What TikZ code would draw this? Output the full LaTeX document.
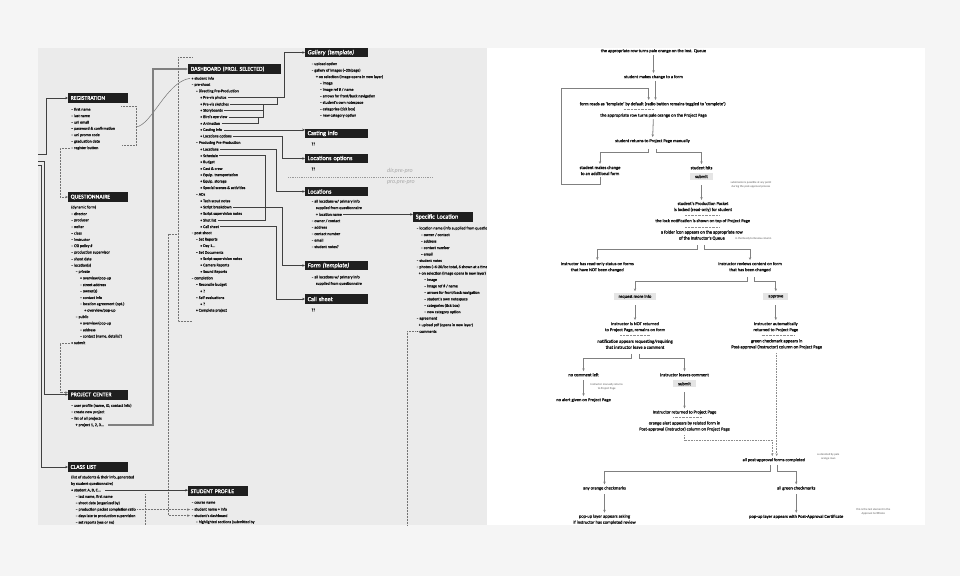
\documentclass[tikz,border=0pt]{standalone}
\usepackage{fontspec}
\setmainfont{Carlito}
\newfontfamily\dense{Carlito}[FakeBold=1.2]
\usetikzlibrary{arrows.meta}
\definecolor{outerbg}{HTML}{F5F5F5}
\definecolor{panelbg}{HTML}{EBEBEB}
\definecolor{ink}{HTML}{151515}
\newcommand\lfont{\dense\fontsize{4}{4.8}\selectfont}
\newcommand\hfont{\dense\fontsize{5.8}{6.5}\selectfont}
\newcommand\bfont{\dense\fontsize{6.2}{7}\selectfont}
\newcommand\ffont{\dense\fontsize{4.5}{6}\selectfont}
\newcommand\nfont{\fontsize{2.9}{4}\selectfont}
\tikzset{
  item/.style={anchor=west,inner sep=0pt,outer xsep=1.5pt,font=\lfont,text=ink},
  hdr/.style={anchor=west,fill=black!88,text=white,font=\hfont,inner xsep=2.5pt,
    inner ysep=0pt,minimum height=10pt,text width=#1,align=left},
  rhdr/.style={hdr=#1,font=\bfont,minimum height=9.5pt},
  phase/.style={font=\fontsize{6}{7}\selectfont\itshape,text=black!35,inner sep=0pt},
  link/.style={draw=black!75,line width=.7pt},
  plink/.style={draw=black!50,line width=1.2pt},
  dotl/.style={draw=black!55,densely dotted,line width=.5pt},
  ftxt/.style={inner sep=0pt,outer sep=2pt,font=\ffont,align=center,text=ink},
  btn/.style={fill=black!10,font=\ffont,inner xsep=5pt,inner ysep=0pt,
    minimum height=7pt,outer sep=2pt,text=ink},
  note/.style={inner sep=0pt,font=\nfont,align=center,text=black!65},
  fl/.style={draw=black!50,line width=.8pt},
  dfl/.style={draw=black!45,densely dotted,line width=.6pt},
  sepl/.style={draw=black!45,densely dotted,line width=.4pt},
}
\begin{document}
\begin{tikzpicture}[x=1pt,y=-1pt,>={Stealth[length=2.8pt,width=2.4pt]}]
  \def\dy{6.45}
  \def\ind{4.4}
  \useasboundingbox (0,0) rectangle (960,576);
  \fill[outerbg] (0,0) rectangle (960,576);
  \fill[panelbg] (38,48) rectangle (487,525);

  % site map: headers
  \node[hdr=55pt] (reg) at (68,98) {REGISTRATION};
  \node[hdr=55pt] (qst) at (68,197) {QUESTIONNAIRE};
  \node[hdr=55pt] (pc) at (68,394.5) {PROJECT CENTER};
  \node[hdr=55pt] (cl) at (68,467) {CLASS LIST};
  \node[hdr=88pt] (dash) at (188,69) {DASHBOARD (PROJ. SELECTED)};
  \node[hdr=55pt] (sp) at (188,491.3) {STUDENT PROFILE};
  \node[rhdr=58pt] (gal) at (305,52.5) {\itshape Gallery (template)};
  \node[rhdr=58pt] (cast) at (305,133.5) {Casting info};
  \node[rhdr=58pt] (lopt) at (305,158.5) {Locations options};
  \node[rhdr=58pt] (loc) at (305,191.5) {Locations};
  \node[rhdr=58pt] (form) at (305,265.5) {\itshape Form (template)};
  \node[rhdr=58pt] (call) at (305,299) {Call sheet};
  \node[rhdr=55pt] (spec) at (413,217) {Specific Location};

  % site map: lists
  \foreach \lv/\tx [count=\i] in {0/{– first name},0/{– last name},0/{– uni email},
      0/{– password \& confirmation},0/{– uni promo code},0/{– graduation date},
      0/{– register button}}
    \node[item] (r\i) at ({69.7+\lv*\ind},{109.3+(\i-1)*\dy}) {\tx};
  \foreach \lv/\tx [count=\i] in {0/{(dynamic form)},0/{– director},0/{– producer},
      0/{– writer},0/{– class},0/{– instructor},0/{– CSI policy \#},
      0/{– production supervisor},0/{– shoot date},0/{– location(s)},1/{– private},
      2/{• overview/pop-up},2/{– street address},2/{– owner(s)},2/{– contact info},
      2/{– location agreement (opt.)},3/{• overview/pop-up},1/{– public},
      2/{• overview/pop-up},2/{– address},2/{– contact (name, details?)},0/{• submit}}
    \node[item] (q\i) at ({69.7+\lv*\ind},{207.3+(\i-1)*\dy}) {\tx};
  \foreach \lv/\tx [count=\i] in {0/{– user profile (name, ID, contact info)},
      0/{– create new project},0/{– list of all projects},1/{+ project 1, 2, 3...}}
    \node[item] (pc\i) at ({69.7+\lv*\ind},{405.7+(\i-1)*\dy}) {\tx};
  \foreach \lv/\tx [count=\i] in {0/{(list of students \& their info, generated},
      0/{by student questionnaire)},0/{• student A, B, C...},1/{– last name, first name},
      1/{– shoot date (organized by)},1/{– production packet completion ratio},
      1/{– days late to production supervision},1/{– set reports (yes or no)}}
    \node[item] (c\i) at ({69.7+\lv*\ind},{477.3+(\i-1)*\dy}) {\tx};
  \foreach \lv/\tx [count=\i] in {0/{– course name},0/{– student name + info},
      0/{– student's dashboard},1/{– highlighted sections (submitted by}}
    \node[item] (sp\i) at ({190+\lv*\ind},{502.7+(\i-1)*\dy}) {\tx};
  \foreach \lv/\tx [count=\i] in {0/{• student info},0/{– pre-shoot},
      1/{– Directing Pre-Production},2/{• Pre-vis photos},2/{• Pre-vis sketches},
      2/{• Storyboards},2/{• Bird's eye view},2/{• Animation},2/{• Casting info},
      2/{• Locations options},1/{– Producing Pre-Production},2/{• Locations},
      2/{• Schedule},2/{• Budget},2/{• Cast \& crew},2/{• Equip. transportation},
      2/{• Equip. storage},2/{• Special scenes \& activities},1/{– ADs},
      2/{• Tech scout notes},2/{• Script breakdown},2/{• Script supervision notes},
      2/{• Shot list},2/{• Call sheet},0/{– post-shoot},1/{– Set Reports},
      2/{• Day 1...},1/{– Set Documents},2/{• Script supervision notes},
      2/{• Camera Reports},2/{• Sound Reports},0/{– completion},
      1/{– Reconcile budget},2/{• ?},1/{– Self evaluations},2/{• ?},
      1/{• Complete project}}
    \node[item] (D\i) at ({190+\lv*\ind},{78.3+(\i-1)*\dy}) {\tx};
  \foreach \lv/\tx [count=\i] in {0/{– upload option},
      0/{– gallery of images (\textasciitilde20/page)},
      1/{+ on selection (image opens in new layer)},1.9/{– image},
      1.9/{– image ref \# / name},1.9/{– arrows for front/back navigation},
      1.9/{– student's own notespace},1.9/{– categories (tick box)},
      1.9/{– new category option}}
    \node[item] (g\i) at ({310+\lv*\ind},{64+(\i-1)*\dy}) {\tx};
  \node[item] (cq) at (310,144) {??};
  \node[item] (lq) at (310,169) {??};
  \foreach \lv/\tx [count=\i] in {0/{– all locations w/ primary info},
      1/{supplied from questionnaire},1/{+ location name},0/{– owner / contact},
      0/{– address},0/{– contact number},0/{– email},0/{– student notes?}}
    \node[item] (L\i) at ({310+\lv*\ind},{201.5+(\i-1)*\dy}) {\tx};
  \node[item] (F1) at (310,277.3) {– all locations w/ primary info};
  \node[item] (F2) at (314.4,283.7) {supplied from questionnaire};
  \node[item] (sq) at (310,310) {??};
  \foreach \lv/\tx [count=\i] in {0/{– location name (info supplied from questionnaire)},
      1/{– owner / contact},1/{– address},1/{– contact number},1/{– email},
      0/{– student notes},0/{– photos (\textasciitilde6-20/loc total, 6 shown at a time)},
      0.5/{+ on selection (image opens in new layer)},1.75/{– image},
      1.75/{– image ref \# / name},1.75/{– arrows for front/back navigation},
      1.75/{– student's own notespace},1.75/{– categories (tick box)},
      1.75/{– new category option},0/{– agreement},
      0.5/{+ upload pdf (opens in new layer)},0/{– comments}}
    \node[item] (S\i) at ({415+\lv*\ind},{228.3+(\i-1)*\dy}) {\tx};
  \node[phase,anchor=east] (dirpp) at (413,171) {dir.pre-pro};
  \node[phase,anchor=east] (propp) at (415,183) {pro.pre-pro};
  \coordinate (phl) at (288,177.5);
  \coordinate (phr) at (433,177.5);
  \draw[black!40,dash pattern=on .9pt off .9pt,line width=.6pt] (phl) -- (phr);

  % site map: connectors
  \coordinate (inA) at (38,154.5);
  \coordinate (inB) at (38,161.5);
  \coordinate (inC) at (38,165);
  \draw[link,->] (inA) -- ++(8,0) |- (reg.west);
  \draw[link,->] (inB) -- ++(6.5,0) |- (pc.west);
  \draw[link,->] (inC) -- ++(3.5,0) |- (cl.west);
  \draw[dotl,->] (r7.west) -- ++(-9.5,0) |- (qst.west);
  \draw[dotl,->] (q22.west) -- ++(-9.5,0) |- ([yshift=2pt]pc.west);
  \coordinate (rbt) at (121,106);
  \coordinate (rbb) at (121,145);
  \coordinate (rbm) at (136,127);
  \draw[dotl] (rbt) -- ++(15,0) |- (rbb);
  \draw[black!55,line width=.5pt] (rbm) .. controls (152,125) and (166,82) .. (D1.west);
  \coordinate (pcx) at (153,0);
  \draw[plink,->] ([xshift=3pt]pc4.east) -| (pcx |- dash.west) -- (dash.west);
  \coordinate (dbt) at (192,57.7);
  \coordinate (dbb) at (192,321.7);
  \coordinate (dbx) at (178,0);
  \coordinate (dbs) at (178,234);
  \draw[dotl] (dbt) -| (dbx |- dbb) -- (dbb);
  \draw[dotl,->] (dbs) -- ++(-9.3,0) |- (sp3.west);
  \draw[link,->] ([xshift=3pt]c3.east) -- (c3.east -| sp.west);
  \draw[dotl,->] (c6.east) -- (c6.east -| sp2.west);
  \coordinate (cvt) at (145,494);
  \coordinate (cvb) at (145,525);
  \draw[dotl] (cvt) -- (cvb);
  \coordinate (x258) at (258,0);
  \coordinate (x263) at (263,0);
  \coordinate (x265) at (265,0);
  \coordinate (x276) at (276,0);
  \coordinate (x277) at (277,0);
  \coordinate (x282) at (282,0);
  \coordinate (x284) at (284,0);
  \draw[link,->] (D4.east) -| (x284 |- gal.west) -- (gal.west);
  \draw[link] (D5.east) -| (x277 |- D4.east);
  \draw[link] (D6.east) -| (x263 |- D5.east);
  \draw[link] (D7.east) -| (x263 |- D6.east);
  \draw[link] (D8.east) -| (x258 |- D7.east);
  \draw[link,->] (D9.east) -- (D9.east -| cast.west);
  \draw[link,->] (D10.east) -| (x282 |- lopt.west) -- (lopt.west);
  \draw[link,->] (D12.east) -| (x276 |- loc.west) -- (loc.west);
  \draw[link] (D13.east) -| (x265 |- D23.east) -- (D23.east);
  \draw[link,->] (D21.east) -| (x282 |- form.west) -- (form.west);
  \draw[link,->] (D24.east) -| (x276 |- call.west) -- (call.west);
  \draw[link,->] (L3.east) -- (L3.east -| spec.west);
  \coordinate (cmb) at (407,525);
  \draw[dotl] (S17.west) -| (cmb);

  % approval flow
  \fill[white] (487,48) rectangle (925,525);
  \node[ftxt] (f1) at (653.5,51) {the appropriate row turns pale orange on the Inst. Queue};
  \node[ftxt] (f2) at (653.5,77) {student makes change to a form};
  \node[ftxt] (f3) at (652.7,104) {form reads as ‘template’ by default (radio button remains toggled to ‘complete’)};
  \node[ftxt] (f4) at (653.5,115.5) {the appropriate row turns pale orange on the Project Page};
  \node[ftxt] (f5) at (652.5,141) {student returns to Project Page manually};
  \node[ftxt] (f6) at (600,170.5) {student makes change\\to an additional form};
  \node[ftxt] (f7) at (701.5,167.7) {student hits};
  \node[btn] (b1) at (701.5,176.5) {submit};
  \node[note] (n1) at (751,184.7) {submission is possible at any point\\during the post-approval process};
  \node[ftxt] (f8) at (703,206.8) {student's Production Packet\\is locked (read-only) for student};
  \node[ftxt] (f9) at (702.7,221) {the lock notification is shown on top of Project Page};
  \node[ftxt] (f10) at (701.8,235.3) {a folder icon appears on the appropriate row\\of the Instructor's Queue};
  \node[note,anchor=west] (n2) at (735,238.3) {in the Ready to Review column};
  \node[ftxt] (f11) at (597.3,267) {Instructor has read-only status on forms\\that have NOT been changed};
  \node[ftxt] (f12) at (750,267) {Instructor reviews content on form\\that has been changed};
  \node[btn] (b2) at (635,296.7) {request more info};
  \node[btn] (b3) at (775.8,296.7) {approve};
  \node[ftxt] (f13) at (635,327) {Instructor is NOT returned\\to Project Page, remains on form};
  \node[ftxt] (f14) at (635,344.2) {notification appears requesting/requiring\\that instructor leave a comment};
  \node[ftxt] (f15) at (775.8,327) {Instructor automatically\\returned to Project Page};
  \node[ftxt] (f16) at (776.7,344.2) {green checkmark appears in\\Post-approval (instructor) column on Project Page};
  \node[ftxt] (f17) at (583.5,374.7) {no comment left};
  \node[note] (n3) at (606.7,386.3) {Instructor manually returns\\to Project Page};
  \node[ftxt] (f18) at (583.5,400) {no alert given on Project Page};
  \node[ftxt] (f19) at (684.5,374.7) {Instructor leaves comment};
  \node[btn] (b4) at (684.5,383.7) {submit};
  \node[ftxt] (f20) at (684.5,412.3) {Instructor returned to Project Page};
  \node[ftxt] (f21) at (684.5,426.3) {orange alert appears by related form in\\Post-approval (instructor) column on Project Page};
  \node[ftxt] (f22) at (773.8,460) {all post-approval forms completed};
  \node[note] (n4) at (828.3,457) {as denoted by pale\\orange rows};
  \node[ftxt] (f23) at (604.5,488.3) {any orange checkmarks};
  \node[ftxt] (f24) at (604.5,519.5) {pop-up layer appears asking\\if instructor has completed review};
  \node[ftxt] (f25) at (796.2,488.3) {all green checkmarks};
  \node[ftxt] (f26) at (796.2,516.7) {pop-up layer appears with Post-Approval Certificate};
  \node[note] (n5) at (873.3,512) {this is the last element in the\\Approval Certificate};

  \draw[fl,->] (f1) -- (f2);
  \draw[fl,->] ([xshift=2pt]f2.south) -- ([xshift=2pt]f2.south |- f3.north);
  \coordinate (lpL) at (561,184.3);
  \coordinate (lpT) at (648.7,88.3);
  \draw[fl,->] (f6.south) |- (lpL) |- (lpT) -- (lpT |- f3.north);
  \draw[sepl] ([xshift=-29pt,yshift=-1pt]f3.south) -- ++(30,0);
  \draw[fl,->] (f4) -- (f5);
  \draw[fl,->] ([xshift=-4pt,yshift=-4pt]f5.south) -- ++(0,3.5) -| (f6.north);
  \draw[fl,->] ([xshift=4pt,yshift=-4pt]f5.south) -- ++(0,3.5) -| (f7.north);
  \draw[fl,->] ([yshift=-3pt]b1.south) -- (b1.south |- f8.north);
  \draw[sepl] ([xshift=-18pt,yshift=-1pt]f8.south) -- ++(34,0);
  \draw[sepl] ([xshift=-17.7pt,yshift=-2pt]f9.south) -- ++(34,0);
  \draw[fl,->] ([xshift=-4.5pt,yshift=-3pt]f10.south) -- ++(0,4.5) -| (f11.north);
  \draw[fl,->] ([xshift=3pt,yshift=-3pt]f10.south) -- ++(0,4.5) -| (f12.north);
  \draw[fl,->] ([xshift=-2.7pt,yshift=-3pt]f12.south) -- ++(0,4.5) -| (b2.north);
  \draw[fl,->] ([xshift=4.3pt,yshift=-3pt]f12.south) -- ++(0,4.5) -| (b3.north);
  \draw[fl,->] ([yshift=-3pt]b2.south) -- (b2.south |- f13.north);
  \draw[fl,->] ([yshift=-3pt]b3.south) -- (b3.south |- f15.north);
  \draw[sepl] ([xshift=-15pt,yshift=-1pt]f13.south) -- ++(30,0);
  \draw[sepl] ([xshift=-14.3pt,yshift=-1.5pt]f15.south) -- ++(33,0);
  \draw[fl,->] ([xshift=-3.3pt,yshift=-3pt]f14.south) -- ++(0,5) -| (f17.north);
  \draw[fl,->] ([xshift=4pt,yshift=-3pt]f14.south) -- ++(0,5) -| (f19.north);
  \draw[fl,->] ([yshift=-2pt]f17.south) -- (f17.south |- f18.north);
  \draw[fl,->] ([yshift=-3pt]b4.south) -- (b4.south |- f20.north);
  \draw[sepl] ([xshift=-11.3pt,yshift=-1.2pt]f20.south) -- ++(28.7,0);
  \draw[dfl,->] ([yshift=-2pt]f21.south) -- ++(0,5) -| ([xshift=-1.5pt]f22.north);
  \draw[dfl,->] ([yshift=-2pt]f16.south) -- (f16.south |- f22.north);
  \draw[fl,->] ([xshift=-3.8pt,yshift=-1pt]f22.south) -- ++(0,6.5) -| (f23.north);
  \draw[fl,->] ([xshift=3.5pt,yshift=-1pt]f22.south) -- ++(0,6.5) -| (f25.north);
  \draw[fl,->] ([yshift=-2pt]f23.south) -- (f23.south |- f24.north);
  \draw[fl,->] ([yshift=-2pt]f25.south) -- (f25.south |- f26.north);
\end{tikzpicture}
\end{document}
